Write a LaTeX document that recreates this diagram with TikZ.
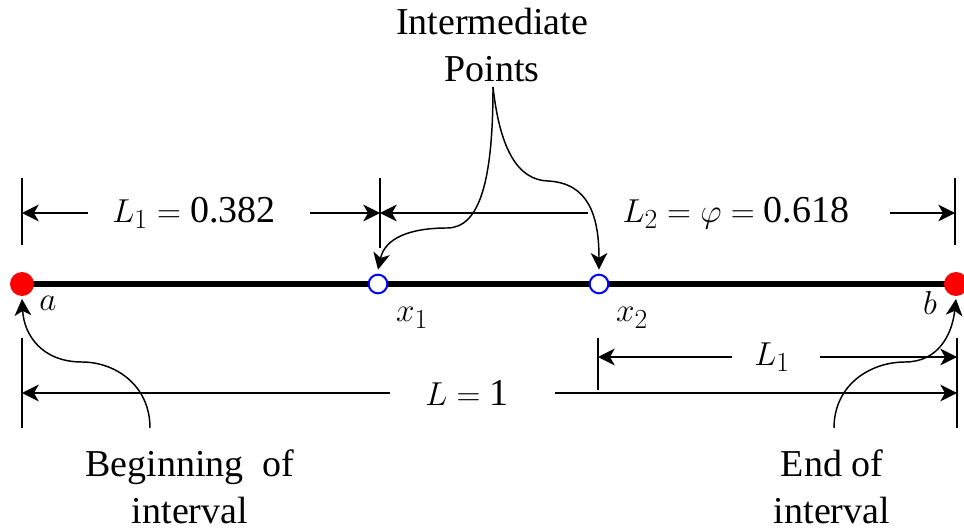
\documentclass[tikz,border=0pt]{standalone}
\usepackage{fontspec}
\setmainfont{Liberation Serif}
\usetikzlibrary{arrows.meta}
\begin{document}
\begin{tikzpicture}[x=0.75pt,y=-0.75pt,
  every node/.style={font=\rmfamily\fontsize{28.5}{35}\selectfont},
  tip/.style={-{Stealth[length=12.5pt,width=12.5pt,inset=3.5pt]}},
  dimline/.style={line width=1.3pt,tip},
  tickline/.style={line width=1.2pt},
  curvearrow/.style={line width=1.1pt,tip},
  enddot/.style={circle,fill=red,minimum size=18pt,inner sep=0pt},
  middot/.style={circle,draw=blue,fill=white,line width=1.5pt,minimum size=14pt,inner sep=0pt},
  lbl/.style={inner sep=1pt}]
\useasboundingbox (0,0) rectangle (964,531);
% main line and points
\coordinate (A) at (22,284);
\coordinate (B) at (956,284);
\draw[line width=5.2pt] (A) -- (B);
\node[enddot] (a) at (A) {};
\node[enddot] (b) at (B) {};
\node[middot] (x1) at (378,284) {};
\node[middot] (x2) at (599,284) {};
\node[lbl] (la) at (48,303) {$a$};
\node[lbl] (lb) at (930,303) {$b$};
\node[lbl] (lx1) at (412,318) {$x_1$};
\node[lbl] (lx2) at (632,318) {$x_2$};
% ticks
\coordinate (t1a) at (22,178); \coordinate (t1b) at (22,245);
\coordinate (t2a) at (380,178); \coordinate (t2b) at (380,248);
\coordinate (t3a) at (955,178); \coordinate (t3b) at (955,245);
\draw[tickline] (t1a) -- (t1b);
\draw[tickline] (t2a) -- (t2b);
\draw[tickline] (t3a) -- (t3b);
\coordinate (d1) at (22,213); \coordinate (d2) at (380,213); \coordinate (d3) at (955,213);
% top dimensions
\node (L1) at (194,213) {$L_1 = \mbox{0.382}$};
\coordinate (L1l) at (88,213); \coordinate (L1r) at (310,213);
\draw[dimline] (L1l) -- (d1);
\draw[dimline] (L1r) -- (d2);
\node (L2) at (736,213) {$L_2 = \varphi = \mbox{0.618}$};
\coordinate (L2l) at (588,213); \coordinate (L2r) at (890,213);
\draw[dimline] (L2l) -- (d2);
\draw[dimline] (L2r) -- (d3);
% bottom ticks
\coordinate (b1a) at (22,338); \coordinate (b1b) at (22,428);
\coordinate (b2a) at (598,338); \coordinate (b2b) at (598,390);
\coordinate (b3a) at (957,338); \coordinate (b3b) at (957,428);
\draw[tickline] (b1a) -- (b1b);
\draw[tickline] (b2a) -- (b2b);
\draw[tickline] (b3a) -- (b3b);
% L = 1
\node (L) at (467,393) {$L = \mbox{1}$};
\coordinate (Ll) at (390,393); \coordinate (Lr) at (555,393);
\coordinate (e1) at (22,393); \coordinate (e3) at (957,393);
\draw[dimline] (Ll) -- (e1);
\draw[dimline] (Lr) -- (e3);
% L1 bottom
\node (L1b) at (772,357) {$L_1$};
\coordinate (L1bl) at (732,357); \coordinate (L1br) at (820,357);
\coordinate (f2) at (598,357); \coordinate (f3) at (957,357);
\draw[dimline] (L1bl) -- (f2);
\draw[dimline] (L1br) -- (f3);
% intermediate points
\node[align=center] (ip) at (492,45) {Intermediate\\Points};
\coordinate (ipc) at (493,87);
\draw[curvearrow] (ipc) .. controls (493,180) and (480,228) .. (447,228)
  .. controls (410,228) and (385,238) .. ([yshift=3pt]x1.north);
\draw[curvearrow] (ipc) .. controls (500,150) and (518,180) .. (548,181)
  .. controls (588,183) and (599,215) .. ([yshift=3pt]x2.north);
% beginning / end
\node[align=center] (beg) at (190,487) {Beginning\ \ of\\interval};
\coordinate (begc) at (150,428);
\draw[curvearrow] (begc) .. controls (150,385) and (115,362) .. (82,362)
  .. controls (42,362) and (24,335) .. ([yshift=-2pt]a.south);
\node[align=center] (end) at (832,487) {End of\\interval};
\coordinate (endc) at (834,428);
\draw[curvearrow] (endc) .. controls (834,385) and (870,362) .. (905,362)
  .. controls (938,362) and (952,335) .. ([yshift=-2pt]b.south);
\end{tikzpicture}
\end{document}
